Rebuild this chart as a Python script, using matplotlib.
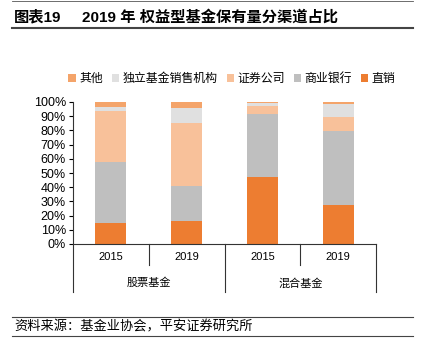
import numpy as np
import matplotlib
matplotlib.use("Agg")
import matplotlib.pyplot as plt
from matplotlib.lines import Line2D

plt.rcParams['font.family'] = ['Liberation Sans', 'Noto Sans CJK SC', 'DejaVu Sans']

years = ['2015', '2019', '2015', '2019']
groups = ['股票基金', '混合基金']
series = ['直销', '商业银行', '证券公司', '独立基金销售机构', '其他']
zhixiao = [14.7, 16.4, 47.0, 27.3]
shangye = [43.2, 24.5, 44.6, 52.6]
zhengquan = [35.6, 44.1, 5.6, 9.4]
duli = [3.2, 11.0, 1.9, 9.3]
qita = [3.3, 4.0, 0.9, 1.4]
colors = ['#ED7D31', '#BFBFBF', '#F8C19A', '#E0E0E0', '#F4A46A']
yticks = [0, 10, 20, 30, 40, 50, 60, 70, 80, 90, 100]

fig = plt.figure(figsize=(4.24, 3.56), dpi=100)
W, H = 424, 356
ax = fig.add_axes([73 / W, 1 - 244 / H, (376 - 73) / W, (244 - 102) / H])

x = np.arange(len(years))
bottom = np.zeros(len(years))
for name, vals, c in zip(series, [zhixiao, shangye, zhengquan, duli, qita], colors):
    ax.bar(x, vals, 0.41, bottom=bottom, color=c, label=name)
    bottom += np.array(vals)

ax.set_xlim(-0.5, 3.5)
ax.set_ylim(0, 100)
ax.set_yticks(yticks)
ax.set_yticklabels([f'{v}%' for v in yticks], fontsize=9)
ax.tick_params(axis='y', length=3, width=0.8, pad=2, direction='out')
ax.set_xticks([])
for s in ['top', 'right']:
    ax.spines[s].set_visible(False)
ax.spines['left'].set_color('#333333')
ax.spines['bottom'].set_color('#333333')

# category labels and separators
for i, yr in enumerate(years):
    ax.text(i, -0.09, yr, transform=ax.get_xaxis_transform(), ha='center', va='center', fontsize=8)
for gi, g in enumerate(groups):
    ax.text(gi * 2 + 0.5, -0.275, g, transform=ax.get_xaxis_transform(), ha='center', va='center', fontsize=8)
for xs in [-0.5, 1.5, 3.5]:
    ax.add_line(Line2D([xs, xs], [0, -0.338], transform=ax.get_xaxis_transform(), color='#333333', lw=0.8, clip_on=False))
for xs in [0.5, 2.5]:
    ax.add_line(Line2D([xs, xs], [0, -0.148], transform=ax.get_xaxis_transform(), color='#333333', lw=0.8, clip_on=False))

handles, labels = ax.get_legend_handles_labels()
fig.legend(handles[::-1], labels[::-1], loc='center', bbox_to_anchor=(232 / W, 1 - 79 / H), ncol=5,
           frameon=False, fontsize=8.6, handlelength=0.6, handleheight=0.6, handletextpad=0.3,
           columnspacing=0.75, borderpad=0)

# header and footer
fig.text(14 / W, 1 - 17 / H, '图表19', fontsize=11, fontweight='bold', va='center', ha='left')
fig.text(82 / W, 1 - 17 / H, '2019 年 权益型基金保有量分渠道占比', fontsize=11, fontweight='bold', va='center', ha='left')
fig.add_artist(Line2D([12 / W, 413 / W], [1 - 1 / H, 1 - 1 / H], color='#555555', lw=0.6))
fig.add_artist(Line2D([12 / W, 413 / W], [1 - 27.5 / H, 1 - 27.5 / H], color='#444444', lw=1.5))
fig.add_artist(Line2D([12 / W, 413 / W], [1 - 317 / H, 1 - 317 / H], color='#444444', lw=0.8))
fig.add_artist(Line2D([12 / W, 413 / W], [1 - 336 / H, 1 - 336 / H], color='#444444', lw=0.8))
fig.text(14 / W, 1 - 327 / H, '资料来源：基金业协会，平安证券研究所', fontsize=9.5, style='italic', va='center', ha='left')

fig.savefig('out.png', dpi=100)
